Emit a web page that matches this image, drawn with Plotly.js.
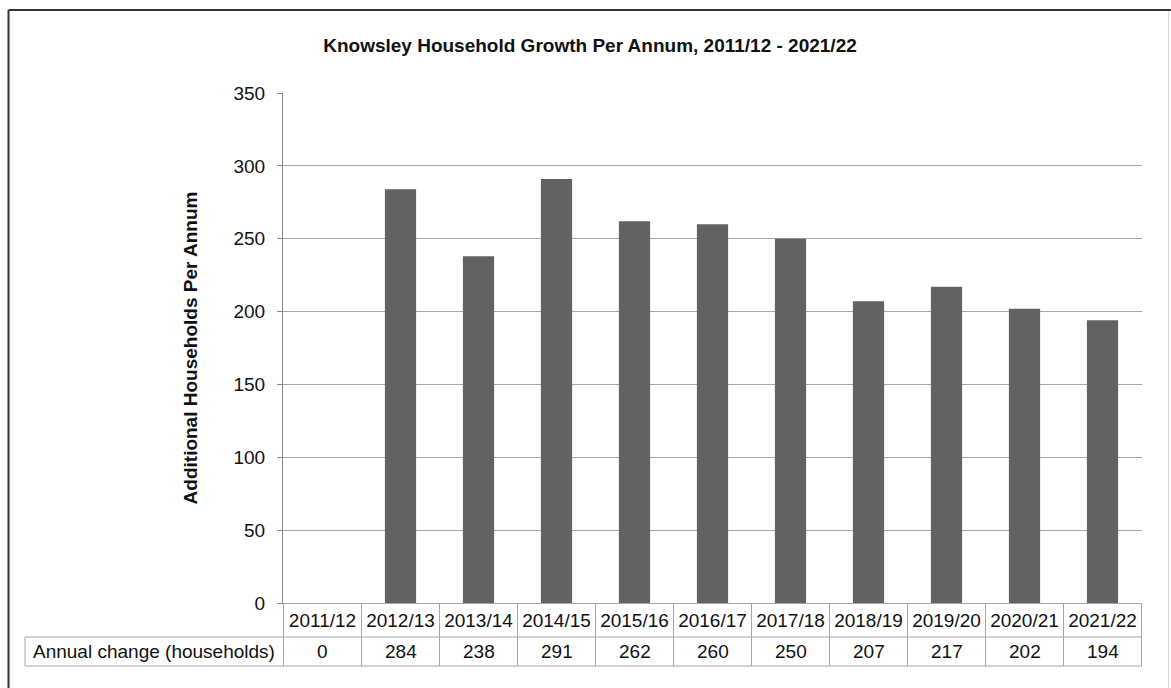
<!DOCTYPE html>
<html>
<head>
<meta charset="utf-8">
<script src="https://cdn.plot.ly/plotly-3.0.1.min.js"></script>
<style>
  html, body { margin: 0; padding: 0; background: #fff; }
  #chart { width: 1171px; height: 688px; }
</style>
</head>
<body>
<div id="chart"></div>
<script>
// ---- data ----
const categories = ["2011/12","2012/13","2013/14","2014/15","2015/16","2016/17","2017/18","2018/19","2019/20","2020/21","2021/22"];
const annualChange = [0, 284, 238, 291, 262, 260, 250, 207, 217, 202, 194];
const tableRowLabel = "Annual change (households)";
const chartTitle = "Knowsley Household Growth Per Annum, 2011/12 - 2021/22";
const yTitle = "Additional Households Per Annum";
const yTickValues = [0, 50, 100, 150, 200, 250, 300, 350];

// ---- layout geometry (pixels) ----
const W = 1171, H = 688;
const M = {l: 283, r: 29, t: 93, b: 85};
const PW = W - M.l - M.r, PH = H - M.t - M.b;
const px = v => (v - M.l) / PW;          // pixel x -> paper x
const py = v => (H - M.b - v) / PH;      // pixel y -> paper y

const FS = 19;
const txt = "#111";
const gridCol = "#a6a6a6";
const row1Bottom = py(637), row2Bottom = py(666);
const labelLeft = px(25);
const n = categories.length;

const shapes = [];
// vertical cell lines on category boundaries
for (let i = 0; i <= n; i++) {
  shapes.push({type: "line", xref: "x", yref: "paper", x0: i - 0.5, x1: i - 0.5,
    y0: 0, y1: row2Bottom, line: {color: gridCol, width: 1}});
}
// label column left edge
shapes.push({type: "line", xref: "paper", yref: "paper", x0: labelLeft, x1: labelLeft,
  y0: row1Bottom, y1: row2Bottom, line: {color: gridCol, width: 1}});
// horizontal lines of value row
[row1Bottom, row2Bottom].forEach(yv => shapes.push({type: "line", xref: "paper", yref: "paper",
  x0: labelLeft, x1: 1, y0: yv, y1: yv, line: {color: gridCol, width: 1}}));
// outer frame
shapes.push({type: "line", xref: "paper", yref: "paper", x0: px(8.5), x1: px(8.5), y0: py(10), y1: py(700), line: {color: "#333", width: 2}});
shapes.push({type: "line", xref: "paper", yref: "paper", x0: px(8.5), x1: px(1171), y0: py(10), y1: py(10), line: {color: "#333", width: 2}});
shapes.push({type: "line", xref: "paper", yref: "paper", x0: px(1168.5), x1: px(1168.5), y0: py(11), y1: py(700), line: {color: "#d9d9d9", width: 1}});

const annotations = [];
// value row
categories.forEach((c, i) => annotations.push({xref: "x", yref: "paper", x: i, y: (row1Bottom + row2Bottom) / 2,
  text: String(annualChange[i]), showarrow: false, font: {size: FS, color: txt}, xanchor: "center", yanchor: "middle"}));
annotations.push({xref: "paper", yref: "paper", x: px(31), y: (row1Bottom + row2Bottom) / 2,
  text: tableRowLabel, showarrow: false, font: {size: FS, color: txt}, xanchor: "left", yanchor: "middle"});

const trace = {
  type: "bar", x: categories, y: annualChange,
  marker: {color: "#626262"}, hoverinfo: "x+y"
};

const layout = {
  width: W, height: H,
  margin: M,
  paper_bgcolor: "#fff", plot_bgcolor: "#fff",
  font: {family: "Liberation Sans, Arial, sans-serif", color: txt},
  title: {text: "<b>" + chartTitle + "</b>", x: px(590), xref: "paper", xanchor: "center",
    y: 1 - 45 / H, yanchor: "middle", font: {size: FS, color: txt}},
  bargap: 0.6,
  showlegend: false,
  xaxis: {type: "category", showgrid: false, zeroline: false, showline: true, linecolor: gridCol, linewidth: 1,
    ticks: "", tickfont: {size: FS, color: txt}, ticklabelstandoff: 0, fixedrange: true},
  yaxis: {range: [0, 350], tickvals: yTickValues, showgrid: true, gridcolor: gridCol, gridwidth: 1,
    zeroline: false, showline: true, linecolor: "#888", linewidth: 1,
    ticks: "outside", ticklen: 5, tickcolor: "#888", tickfont: {size: FS, color: txt}, ticklabelstandoff: 8,
    title: {text: "<b>" + yTitle + "</b>", font: {size: FS, color: txt}, standoff: 30}, fixedrange: true},
  shapes: shapes,
  annotations: annotations
};

Plotly.newPlot("chart", [trace], layout, {displayModeBar: false, staticPlot: true});
</script>
</body>
</html>
